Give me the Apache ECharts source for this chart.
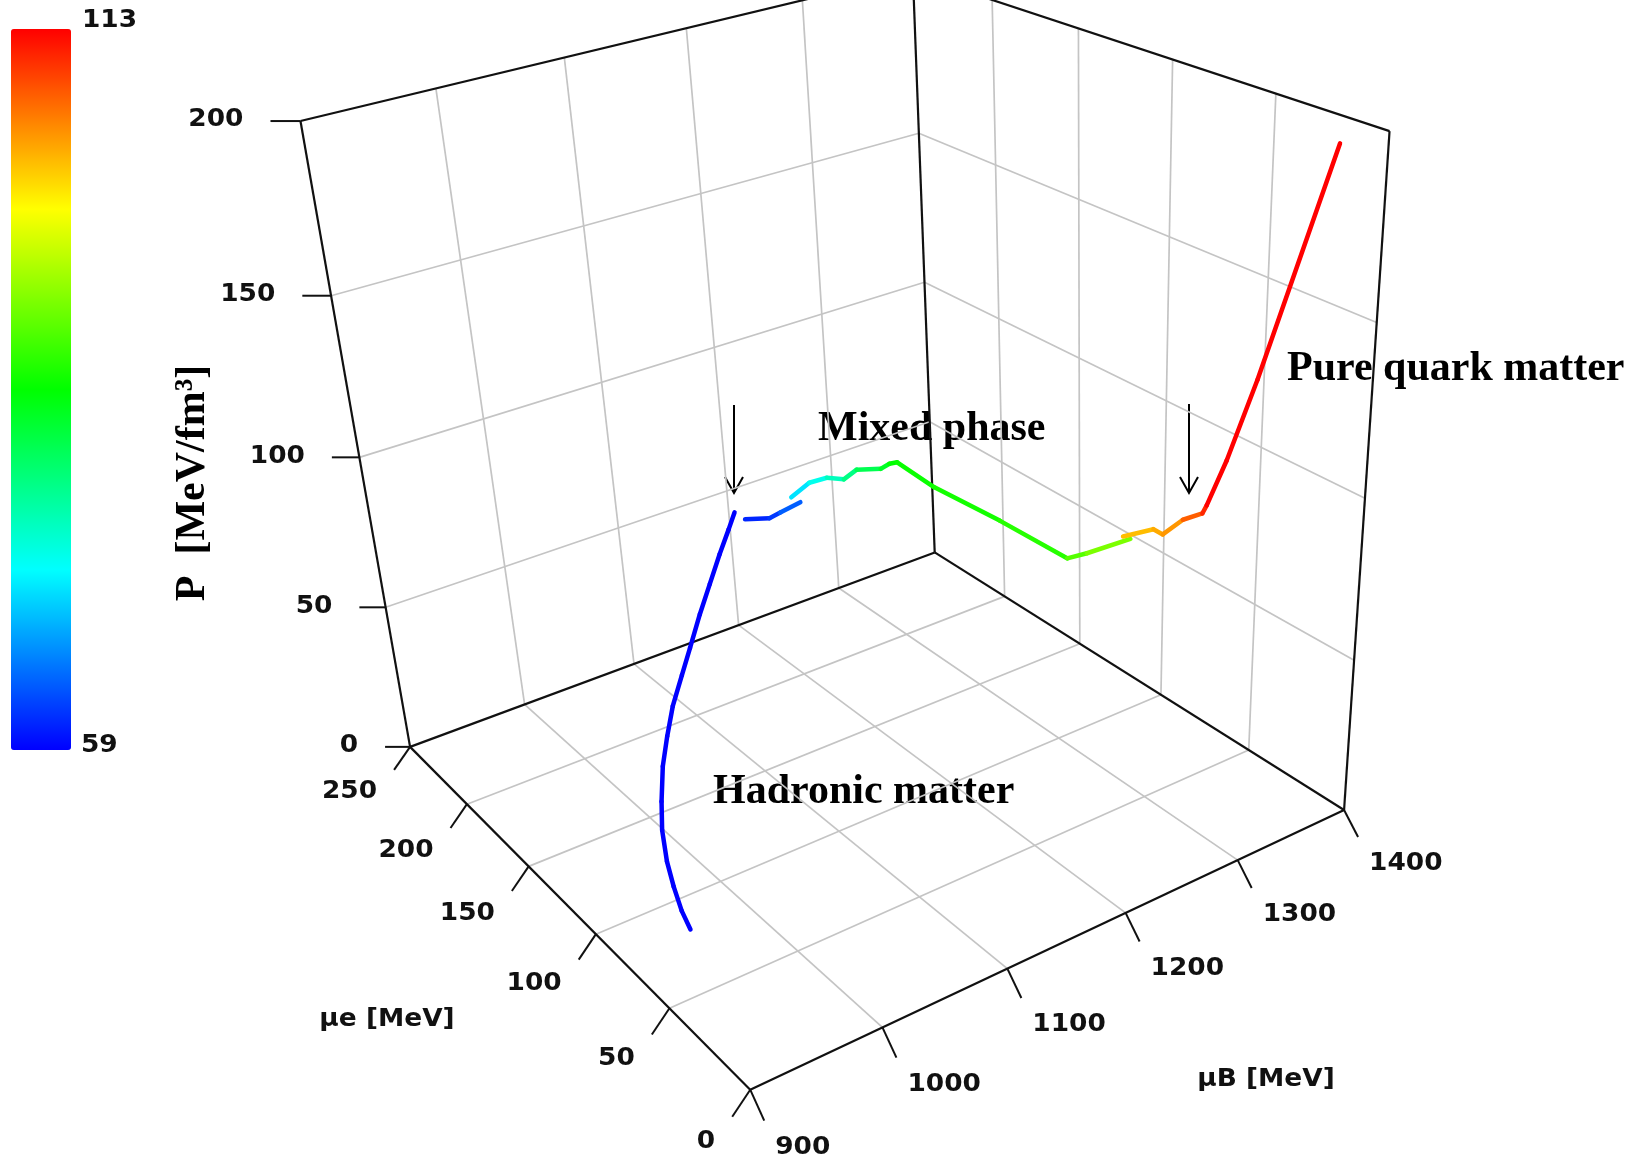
<!DOCTYPE html>
<html><head><meta charset="utf-8">
<script src="https://cdn.jsdelivr.net/npm/echarts@6/dist/echarts.min.js"></script>
<style>html,body{margin:0;padding:0;background:#fff}#c{width:1652px;height:1169px}</style>
</head><body><div id="c"></div><script>
// ---------- data ----------
const muBTicks = [900, 1000, 1100, 1200, 1300, 1400];
const muETicks = [0, 50, 100, 150, 200, 250];
const pTicks   = [0, 50, 100, 150, 200];
const colorRange = [59, 113];
// rows: [μB (MeV), μe (MeV), P (MeV/fm3), colour value]
const hadronic = [
  [950,78,3,59],[952,85,5.6,59],[955,92,10,59],[959,99,14.6,59],[965,106,21,59],[974,113,26,59],
  [985,120,33,59],[998,127,38,59],[1012,134,43,59],[1029,141,48,59],[1045,148,52,59],[1063,155,58,59],
  [1081,162,63,59],[1099,169,68,59],[1116,176,71.5,59],[1130,183,73,59]
];
const mixedBlue = [[1135,180,71,61],[1150,175,71,62],[1156,172,73,64],[1169,168,76,66]];
const mixedGreen = [
  [1158,165,80,71],[1168,160,85,73.5],[1177,155,87,76],[1185,150,87,79],[1190,145,91,81.7],
  [1204,140,91,84],[1205,135,94,86],[1205,130,96,86.5],[1208,110,94,87],[1227,85,89,88],
  [1246,60,83,90.5],[1255,55,85,92.5],[1271,42,91.5,99]
];
const mixedOrange = [[1268,44,92,103],[1284,38,94,104],[1287,35,93,105],[1292,28,99,108],[1298,22,102,111]];
const quark = [[1298,20,105,113],[1314,20,116,113],[1338,20,136,113],[1399,20,193,113]];

// ---------- view calibration (3D -> screen) ----------
const calib = [[900,0,0,751,1091],[1400,0,0,1343,809],[900,250,0,409,745],[1400,250,0,936,554],
               [900,250,200,301,122],[1400,0,200,1390,131],[1400,250,200,912,-27]];
const B0 = muBTicks[0], B1 = muBTicks[muBTicks.length-1];
const E0 = muETicks[0], E1 = muETicks[muETicks.length-1];
const P0 = pTicks[0], P1 = pTicks[pTicks.length-1];
function nrm(b,e,p){return [(b-B0)/(B1-B0),(e-E0)/(E1-E0),(p-P0)/(P1-P0)];}
const Pm = (function(){
  const A=[], bv=[];
  calib.forEach(c=>{const [X,Y,Z]=nrm(c[0],c[1],c[2]);const u=c[3],v=c[4];
    A.push([X,Y,Z,1,0,0,0,0,-u*X,-u*Y,-u*Z]);bv.push(u);
    A.push([0,0,0,0,X,Y,Z,1,-v*X,-v*Y,-v*Z]);bv.push(v);});
  const n=11,M=[];
  for(let i=0;i<n;i++){const row=[];for(let j=0;j<n;j++){let s=0;for(let k=0;k<A.length;k++)s+=A[k][i]*A[k][j];row.push(s);}
    let s=0;for(let k=0;k<A.length;k++)s+=A[k][i]*bv[k];row.push(s);M.push(row);}
  for(let c=0;c<n;c++){let pv=c;for(let r=c+1;r<n;r++)if(Math.abs(M[r][c])>Math.abs(M[pv][c]))pv=r;[M[c],M[pv]]=[M[pv],M[c]];
    for(let r=0;r<n;r++){if(r===c)continue;const f=M[r][c]/M[c][c];for(let j=c;j<=n;j++)M[r][j]-=f*M[c][j];}}
  const p=[];for(let i=0;i<n;i++)p.push(M[i][n]/M[i][i]);return p;})();
function proj(b,e,pp){const [X,Y,Z]=nrm(b,e,pp);const p=Pm;const w=p[8]*X+p[9]*Y+p[10]*Z+1;
  return [(p[0]*X+p[1]*Y+p[2]*Z+p[3])/w,(p[4]*X+p[5]*Y+p[6]*Z+p[7])/w];}

// ---------- styles ----------
const GRID='#c4c4c4', EDGE='#111';
const TICKFONT='bold 24px "DejaVu Sans"', SX=1.1;
const SERIF='bold 42px "Liberation Serif"';

function seg(a,b,stroke,w){return {type:'line',silent:true,shape:{x1:a[0],y1:a[1],x2:b[0],y2:b[1]},style:{stroke:stroke,lineWidth:w}};}
function label(x,y,text,align){return {type:'text',silent:true,x:x,y:y,scaleX:SX,
  style:{text:String(text),x:0,y:0,font:TICKFONT,fill:'#111',textAlign:align,align:align,textVerticalAlign:'middle',verticalAlign:'middle'}};}

function frameRender(){
  const ch=[];
  // floor grid
  muBTicks.slice(1,-1).forEach(b=>ch.push(seg(proj(b,E0,P0),proj(b,E1,P0),GRID,1.7)));
  muETicks.slice(1,-1).forEach(e=>ch.push(seg(proj(B0,e,P0),proj(B1,e,P0),GRID,1.7)));
  // back-left wall (μe max)
  muBTicks.slice(1,-1).forEach(b=>ch.push(seg(proj(b,E1,P0),proj(b,E1,P1),GRID,1.7)));
  pTicks.slice(1,-1).forEach(p=>ch.push(seg(proj(B0,E1,p),proj(B1,E1,p),GRID,1.7)));
  // back-right wall (μB max)
  muETicks.slice(1,-1).forEach(e=>ch.push(seg(proj(B1,e,P0),proj(B1,e,P1),GRID,1.7)));
  pTicks.slice(1,-1).forEach(p=>ch.push(seg(proj(B1,E0,p),proj(B1,E1,p),GRID,1.7)));
  // edges
  const A=proj(B0,E0,P0),B=proj(B1,E0,P0),C=proj(B0,E1,P0),D=proj(B1,E1,P0),
        E=proj(B0,E1,P1),F=proj(B1,E0,P1),G=proj(B1,E1,P1);
  [[A,B],[A,C],[C,D],[D,B],[C,E],[D,G],[B,F],[E,G],[F,G]].forEach(s=>ch.push(seg(s[0],s[1],EDGE,2.2)));
  // μB ticks + labels
  muBTicks.forEach(b=>{const s=proj(b,E0,P0);const f=(b-B0)/(B1-B0);
    const t=[s[0]+14,s[1]+31-4*f];ch.push(seg(s,t,EDGE,2));ch.push(label(t[0]+11,t[1]+27,b,'left'));});
  // μe ticks + labels
  muETicks.forEach(e=>{const s=proj(B0,e,P0);const f=(e-E0)/(E1-E0);
    const t=[s[0]-18+2*f,s[1]+27-4*f];ch.push(seg(s,t,EDGE,2));ch.push(label(t[0]-17,t[1]+25-3*f,e,'right'));});
  // P ticks + labels
  pTicks.forEach(p=>{const s=proj(B0,E1,p);const f=(p-P0)/(P1-P0);
    const t=[s[0]-25-5*f,s[1]];ch.push(seg(s,t,EDGE,2));ch.push(label(t[0]-27,t[1]-1,p,'right'));});
  return {type:'group',children:ch};
}

// curve data
const segments=[hadronic,mixedBlue,mixedGreen,mixedOrange,quark];
const curve=[];
segments.forEach((s,si)=>s.forEach(r=>curve.push([r[0],r[1],r[2],r[3],si])));
function curveRender(params,api){
  const i=params.dataIndex, cur=curve[i], nx=curve[i+1];
  if(!nx) return null;
  if(nx[4]!==cur[4] && !(cur[4]===3 && nx[4]===4)) return null;
  const a=proj(api.value(0),api.value(1),api.value(2)), b=proj(nx[0],nx[1],nx[2]);
  return {type:'line',shape:{x1:a[0],y1:a[1],x2:b[0],y2:b[1]},style:{stroke:api.visual('color'),lineWidth:4.5,lineCap:'round'}};
}

function arrow(x,y1,y2){return {type:'group',silent:true,children:[
  {type:'line',shape:{x1:x,y1:y1,x2:x,y2:y2},style:{stroke:'#000',lineWidth:2}},
  {type:'polyline',shape:{points:[[x-9,y2-16],[x,y2],[x+9,y2-16]]},style:{stroke:'#000',lineWidth:2,fill:null}}]};}

const chart=echarts.init(document.getElementById('c'));
chart.setOption({
  animation:false,
  backgroundColor:'#fff',
  visualMap:{type:'continuous',min:colorRange[0],max:colorRange[1],dimension:3,seriesIndex:1,
    calculable:false,realtime:false,show:true,left:11,top:29,itemWidth:60,itemHeight:721,padding:0,
    text:null,showLabel:false,hoverLink:false,
    inRange:{color:['#0000ff','#00ffff','#00ff00','#ffff00','#ff0000']}},
  series:[
    {type:'custom',coordinateSystem:'none',silent:true,data:[[0]],renderItem:frameRender,z:1},
    {type:'custom',coordinateSystem:'none',silent:true,data:curve,dimensions:['muB','muE','P','c','seg'],renderItem:curveRender,z:2}
  ],
  graphic:[
    {type:'text',x:82,y:21,scaleX:SX,style:{text:String(colorRange[1]),font:TICKFONT,fill:'#111',textVerticalAlign:'middle',verticalAlign:'middle'}},
    {type:'text',x:81,y:746,scaleX:SX,style:{text:String(colorRange[0]),font:TICKFONT,fill:'#111',textVerticalAlign:'middle',verticalAlign:'middle'}},
    {type:'text',x:1266,y:1080,scaleX:SX,style:{text:'μB [MeV]',font:TICKFONT,fill:'#111',textAlign:'center',align:'center',textVerticalAlign:'middle',verticalAlign:'middle'}},
    {type:'text',x:387,y:1020,scaleX:SX,style:{text:'μe [MeV]',font:TICKFONT,fill:'#111',textAlign:'center',align:'center',textVerticalAlign:'middle',verticalAlign:'middle'}},
    {type:'text',x:193,y:483,rotation:Math.PI/2,style:{text:'P  [MeV/fm³]',font:SERIF,fill:'#000',textAlign:'center',align:'center',textVerticalAlign:'middle',verticalAlign:'middle'}},
    {type:'text',x:818,y:429,style:{text:'Mixed phase',font:SERIF,fill:'#000',textVerticalAlign:'middle',verticalAlign:'middle'}},
    {type:'text',x:713,y:792,style:{text:'Hadronic matter',font:SERIF,fill:'#000',textVerticalAlign:'middle',verticalAlign:'middle'}},
    {type:'text',x:1287,y:369,style:{text:'Pure quark matter',font:SERIF,fill:'#000',textVerticalAlign:'middle',verticalAlign:'middle'}},
    arrow(734,405,493),
    arrow(1189,404,493)
  ]
});
</script></body></html>
